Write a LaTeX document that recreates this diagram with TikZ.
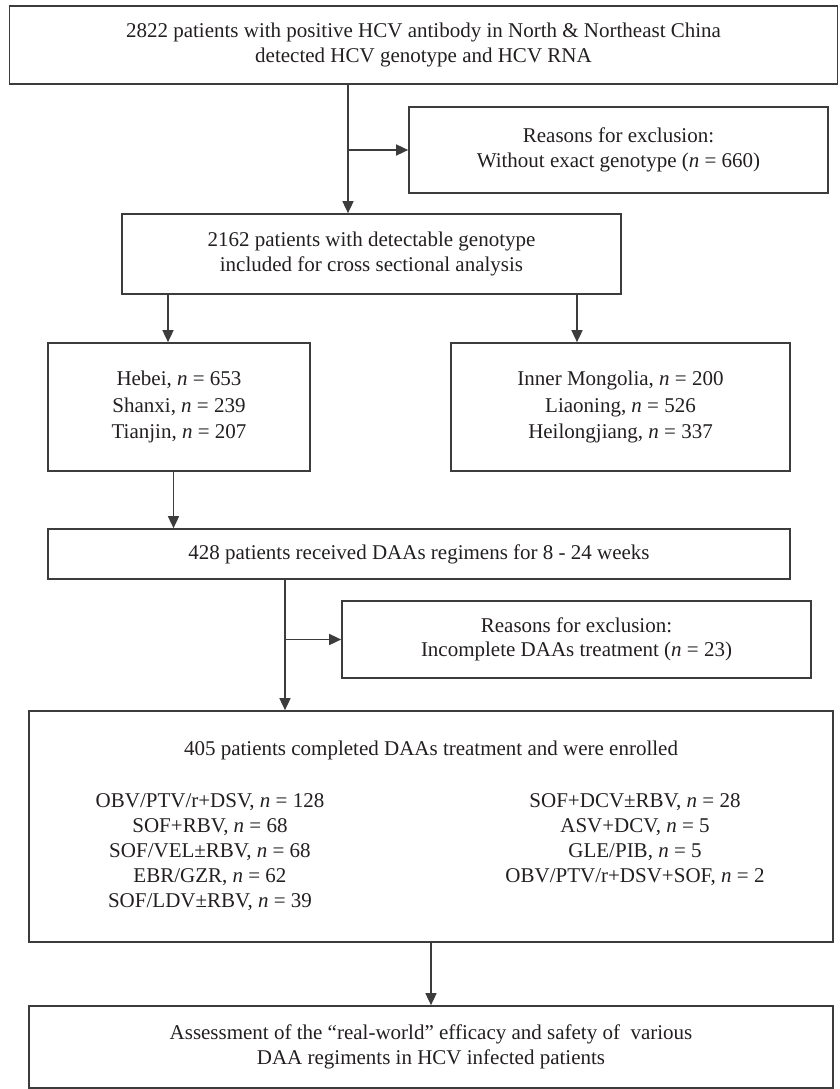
\documentclass[tikz,border=0pt]{standalone}
\usepackage{fontspec}
\setmainfont{Liberation Serif}
\usetikzlibrary{arrows.meta}
\definecolor{linec}{HTML}{3C3C3C}
\definecolor{textc}{HTML}{231F20}
\tikzset{
  box/.style={draw=linec, line width=1.7pt, rectangle, inner sep=0pt, anchor=center,
    align=center, text=textc, font=\fontsize{21}{24.5}\selectfont},
  txt/.style={align=center, text=textc, inner sep=0pt, font=\fontsize{21}{25}\selectfont},
  arr/.style={draw=linec, line width=1.6pt, -{Triangle[length=12pt,width=11pt]}},
  ln/.style={draw=linec, line width=1.6pt}
}
\newcommand{\nn}{\textit{n}}
\begin{document}
\begin{tikzpicture}[x=1pt,y=-1pt]
\useasboundingbox (0,0) rectangle (839,1089);

\node[box, minimum width=828pt, minimum height=78pt] (top) at (423.5,45)
  {2822 patients with positive HCV antibody in North \& Northeast China\\detected HCV genotype and HCV RNA};
\node[box, minimum width=419pt, minimum height=86pt] (ex1) at (618.5,150)
  {Reasons for exclusion:\\Without exact genotype (\nn{} = 660)};
\node[box, minimum width=499pt, minimum height=80pt] (b2162) at (371.5,254)
  {2162 patients with detectable genotype\\included for cross sectional analysis};
\node[box, minimum width=262pt, minimum height=128pt, font=\fontsize{21}{26.5}\selectfont] (hebei) at (179,407)
  {Hebei, \nn{} = 653\\Shanxi, \nn{} = 239\\Tianjin, \nn{} = 207};
\node[box, minimum width=339pt, minimum height=128pt, font=\fontsize{21}{26.5}\selectfont] (inner) at (620.5,407)
  {Inner Mongolia, \nn{} = 200\\Liaoning, \nn{} = 526\\Heilongjiang, \nn{} = 337};
\node[box, minimum width=742pt, minimum height=50pt] (b428) at (419,554)
  {428 patients received DAAs regimens for 8 - 24 weeks};
\node[box, minimum width=469pt, minimum height=77pt] (ex2) at (576.5,639.5)
  {Reasons for exclusion:\\Incomplete DAAs treatment (\nn{} = 23)};
\node[box, minimum width=804pt, minimum height=231pt] (b405) at (431,826.5) {};
\node[txt] (t405) at (431,750) {405 patients completed DAAs treatment and were enrolled};
\node[txt] (l405) at (210,852)
  {OBV/PTV/r+DSV, \nn{} = 128\\SOF+RBV, \nn{} = 68\\SOF/VEL±RBV, \nn{} = 68\\EBR/GZR, \nn{} = 62\\SOF/LDV±RBV, \nn{} = 39};
\node[txt] (r405) at (635,839.5)
  {SOF+DCV±RBV, \nn{} = 28\\ASV+DCV, \nn{} = 5\\GLE/PIB, \nn{} = 5\\OBV/PTV/r+DSV+SOF, \nn{} = 2};
\node[box, minimum width=804pt, minimum height=82pt] (final) at (431,1047)
  {Assessment of the “real-world” efficacy and safety of\ \ various\\DAA regiments in HCV infected patients};

\coordinate (c1) at (348,150);
\draw[arr] (top.south -| c1) -- (b2162.north -| c1);
\draw[arr] (c1) -- (ex1.west);

\coordinate (c2) at (168,0);
\coordinate (c3) at (577,0);
\draw[arr] (b2162.south -| c2) -- (hebei.north -| c2);
\draw[arr] (b2162.south -| c3) -- (inner.north -| c3);

\coordinate (c4) at (173.5,0);
\draw[arr] (hebei.south -| c4) -- (b428.north -| c4);

\coordinate (c5) at (285,639.5);
\draw[arr] (b428.south -| c5) -- (b405.north -| c5);
\draw[arr] (c5) -- (ex2.west);

\draw[arr] (b405.south) -- (final.north);
\end{tikzpicture}
\end{document}
